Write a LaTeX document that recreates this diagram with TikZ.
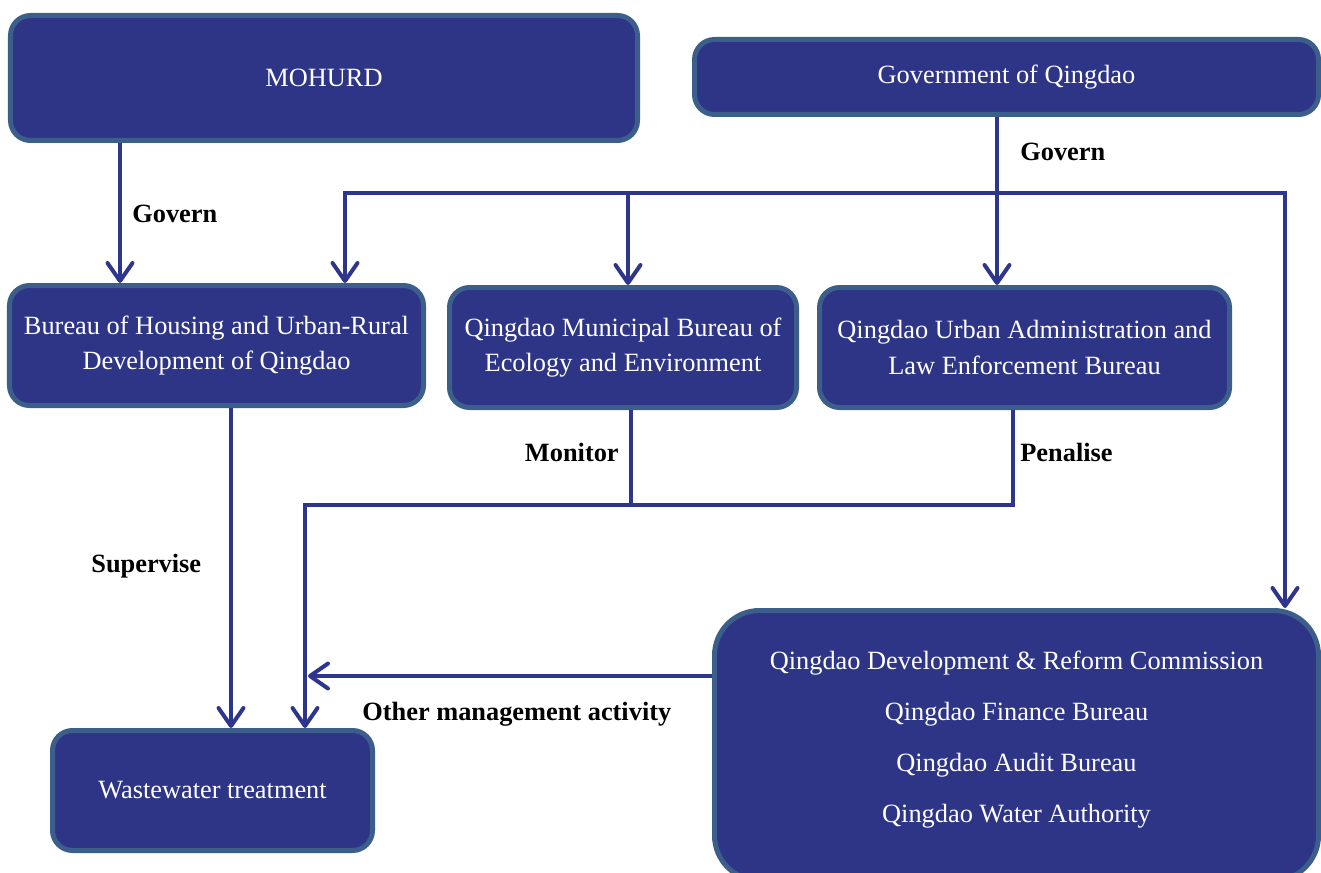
\documentclass[tikz,border=0pt]{standalone}
\usepackage{fontspec}
\setmainfont{Liberation Serif}
\usetikzlibrary{arrows.meta}
\definecolor{OrgFill}{RGB}{46,53,135}
\definecolor{OrgBorder}{RGB}{59,94,138}
\definecolor{FlowBlue}{RGB}{46,53,140}
\tikzstyle{OrgNode}=[rectangle, rounded corners=0.4cm, draw=OrgBorder, fill=OrgFill, line width=0.1cm, text=white, align=center, font=\fontsize{15}{20}\selectfont, inner sep=0pt]
\tikzstyle{BigOrgNode}=[OrgNode, rounded corners=0.9cm]
\tikzstyle{PlainEdge}=[draw=FlowBlue, line width=0.08cm]
\tikzstyle{FlowEdge}=[PlainEdge, ->]
\tikzstyle{EdgeLabel}=[font=\fontsize{15}{20}\selectfont\bfseries, inner sep=0pt]
\tikzset{>={Straight Barb[length=0.36cm, width=0.5cm, round]}}

\begin{document}
\begin{tikzpicture}
\clip (0,0) rectangle (26.42,-17.44);

\node[OrgNode, minimum width=12.54cm, minimum height=2.5cm](MOHURD) at (6.48,-1.56) {MOHURD};
\node[OrgNode, minimum width=12.48cm, minimum height=1.5cm](GOV) at (20.13,-1.54) {Government of Qingdao};
\node[OrgNode, minimum width=8.28cm, minimum height=2.4cm](HOUSING) at (4.33,-6.91) {Bureau of Housing and Urban-Rural\\Development of Qingdao};
\node[OrgNode, minimum width=6.94cm, minimum height=2.4cm](ECOLOGY) at (12.46,-6.95) {Qingdao Municipal Bureau of\\Ecology and Environment};
\node[OrgNode, minimum width=8.2cm, minimum height=2.4cm](URBAN) at (20.49,-6.95) {Qingdao Urban Administration and\\Law Enforcement Bureau};
\node[OrgNode, minimum width=6.4cm, minimum height=2.4cm](WASTE) at (4.25,-15.81) {Wastewater treatment};
\node[BigOrgNode, minimum width=12.08cm, minimum height=5.4cm](OTHERS) at (20.33,-14.91) {Qingdao Development \& Reform Commission\\[9pt]Qingdao Finance Bureau\\[9pt]Qingdao Audit Bureau\\[9pt]Qingdao Water Authority\rule[-0.36cm]{0pt}{0pt}};

\coordinate (busL) at (6.9,-3.86);
\coordinate (busM) at (12.56,-3.86);
\coordinate (busR) at (25.7,-3.86);
\coordinate (joinL) at (6.1,-10.1);
\coordinate (joinM) at (12.62,-10.1);
\coordinate (joinR) at (20.26,-10.1);
\coordinate (otherEnd) at (6.16,-13.52);

\draw[FlowEdge](MOHURD.south -| 2.4,0) -- (HOUSING.north -| 2.4,0);
\draw[FlowEdge](GOV.south -| 19.94,0) -- (URBAN.north -| 19.94,0);
\draw[FlowEdge](busR) -- (busL) -- (HOUSING.north -| busL);
\draw[FlowEdge](busL) -- (busR) -- (OTHERS.north -| busR);
\draw[FlowEdge](busM) -- (ECOLOGY.north -| busM);
\draw[FlowEdge](HOUSING.south -| 4.62,0) -- (WASTE.north -| 4.62,0);
\draw[PlainEdge](ECOLOGY.south -| joinM) -- (joinM);
\draw[FlowEdge](URBAN.south -| joinR) -- (joinR) -- (joinL) -- (WASTE.north -| joinL);
\draw[FlowEdge](OTHERS.west |- otherEnd) -- (otherEnd);

\node[EdgeLabel, anchor=west](govLeft) at (2.64,-4.28) {Govern};
\node[EdgeLabel, anchor=west](govRight) at (20.4,-3.04) {Govern};
\node[EdgeLabel, anchor=east](monitor) at (12.38,-9.04) {Monitor};
\node[EdgeLabel, anchor=west](penalise) at (20.4,-9.04) {Penalise};
\node[EdgeLabel, anchor=west](supervise) at (1.82,-11.32) {Supervise};
\node[EdgeLabel, anchor=west](otherAct) at (7.24,-14.28) {Other management activity};
\end{tikzpicture}
\end{document}
